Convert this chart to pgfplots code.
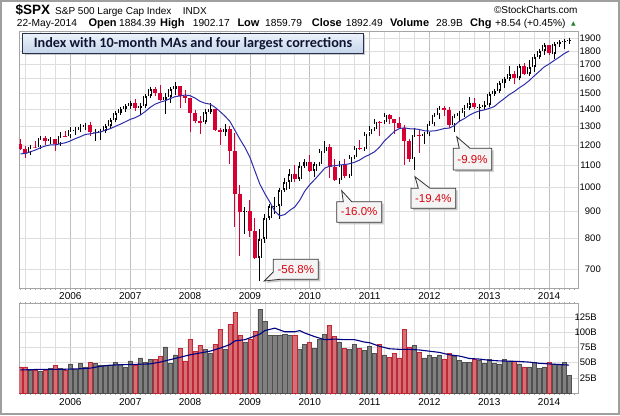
\documentclass[border=0pt]{standalone}
\usepackage{pgfplots}
\pgfplotsset{compat=1.18}
\usepackage{pgfplotstable}
\usepackage{fontspec}
\setmainfont{Liberation Sans}
\newfontfamily\carlito{Carlito}
\newfontfamily\dejavu{DejaVu Sans}
\usetikzlibrary{shadows}

\definecolor{candred}{RGB}{214,0,50}
\definecolor{volred}{RGB}{214,110,118}
\definecolor{volredline}{RGB}{190,40,55}
\definecolor{volgray}{RGB}{128,128,128}
\definecolor{volgrayline}{RGB}{80,80,80}
\definecolor{maline}{RGB}{45,45,170}
\definecolor{vmaline}{RGB}{0,0,130}
\definecolor{lblred}{RGB}{215,5,15}
\definecolor{gridmaj}{RGB}{190,190,190}
\definecolor{gridmin}{RGB}{222,222,222}
\definecolor{framecol}{RGB}{165,165,165}
\definecolor{boxline}{RGB}{40,50,75}

\newcommand{\fs}[1]{\fontsize{#1}{#1}\selectfont}

% monthly S&P 500 candles, i = months from Jan 2006, open = previous close
\pgfplotstableread{
i o h l c
-8 1156.85 1199.56 1146.18 1191.50
-6 1191.33 1245.15 1183.55 1234.18
-4 1220.33 1243.13 1205.35 1228.81
-2 1207.01 1270.64 1201.07 1249.48
0 1248.29 1294.90 1245.74 1280.08
1 1280.08 1297.57 1253.61 1280.66
2 1280.66 1310.88 1268.42 1294.83
3 1294.83 1318.16 1280.74 1310.61
5 1270.09 1284.89 1219.29 1270.20
6 1270.20 1280.42 1224.54 1276.66
7 1276.66 1307.09 1261.30 1303.82
8 1303.82 1340.28 1290.93 1335.85
9 1335.85 1389.45 1327.10 1377.94
10 1377.94 1407.89 1377.76 1400.63
11 1400.63 1431.81 1385.93 1418.30
12 1418.30 1441.61 1403.97 1438.24
14 1406.82 1438.89 1363.98 1420.86
15 1420.86 1498.02 1416.37 1482.37
16 1482.37 1535.56 1476.70 1530.62
19 1455.27 1503.89 1370.60 1473.99
20 1473.99 1538.74 1439.29 1526.75
21 1526.75 1576.09 1489.56 1549.38
27 1322.70 1404.57 1322.70 1385.59
28 1385.59 1440.24 1373.07 1400.38
31 1267.38 1313.15 1248.64 1282.83
35 896.24 918.85 815.69 903.25
38 735.09 832.98 666.79 797.87
39 797.87 888.70 783.32 872.81
40 872.81 930.17 866.10 919.14
41 919.14 956.23 888.86 919.32
42 919.32 996.68 869.32 987.48
43 987.48 1039.47 978.51 1020.62
44 1020.62 1080.15 992.25 1057.08
46 1036.19 1113.69 1029.38 1095.63
47 1095.63 1130.38 1085.89 1115.10
49 1073.87 1112.42 1044.50 1104.49
50 1104.49 1180.16 1104.49 1169.43
51 1169.43 1219.80 1169.43 1186.69
54 1030.71 1120.95 1010.91 1101.60
56 1049.33 1148.67 1041.29 1141.20
57 1141.20 1196.14 1131.87 1183.26
59 1180.55 1262.60 1180.55 1257.64
60 1257.64 1302.67 1257.62 1286.12
61 1286.12 1344.07 1286.12 1327.22
63 1325.83 1366.00 1312.83 1363.61
69 1131.42 1292.66 1074.77 1253.30
71 1246.96 1269.37 1202.37 1257.60
72 1257.60 1333.47 1257.60 1312.41
73 1312.41 1378.04 1312.41 1365.68
74 1365.68 1419.15 1340.03 1408.47
77 1310.33 1363.46 1266.74 1362.16
78 1362.16 1391.74 1325.41 1379.32
79 1379.32 1426.68 1354.65 1406.58
80 1406.58 1474.51 1396.56 1440.67
82 1412.16 1434.27 1343.35 1416.18
83 1416.18 1448.00 1398.11 1426.19
84 1426.19 1509.94 1426.19 1498.11
85 1498.11 1530.94 1485.01 1514.68
86 1514.68 1570.28 1501.48 1569.19
87 1569.19 1597.57 1536.03 1597.57
88 1597.57 1687.18 1581.28 1630.74
90 1606.28 1698.78 1604.57 1685.73
92 1632.97 1729.86 1632.97 1681.55
93 1681.55 1775.22 1646.47 1756.54
94 1756.54 1813.55 1746.20 1805.81
95 1805.81 1849.44 1767.99 1848.36
97 1782.59 1867.92 1737.92 1859.45
98 1859.45 1883.97 1834.44 1872.34
99 1872.34 1897.28 1814.36 1883.95
100 1883.95 1902.17 1859.79 1892.49
}\candup

\pgfplotstableread{
i o h l c
-10 1203.60 1229.11 1176.92 1180.59
-9 1180.59 1191.88 1136.15 1156.85
-7 1191.50 1219.59 1188.30 1191.33
-5 1234.18 1245.86 1201.07 1220.33
-3 1228.81 1233.34 1168.20 1207.01
-1 1249.48 1275.80 1246.59 1248.29
4 1310.61 1326.70 1245.34 1270.09
13 1438.24 1461.57 1389.42 1406.82
17 1530.62 1540.56 1484.18 1503.35
18 1503.35 1555.90 1454.25 1455.27
22 1549.38 1549.38 1406.10 1481.14
23 1481.14 1523.57 1435.65 1468.36
24 1468.36 1471.77 1270.05 1378.55
25 1378.55 1396.02 1316.75 1330.63
26 1330.63 1359.68 1256.98 1322.70
29 1400.38 1404.05 1272.00 1280.00
30 1280.00 1292.17 1200.44 1267.38
32 1282.83 1303.04 1106.42 1166.36
33 1166.36 1264.85 839.80 968.75
34 968.75 1007.51 741.02 896.24
36 903.25 943.85 804.47 825.88
37 825.88 875.01 734.52 735.09
45 1057.08 1101.36 1020.18 1036.19
48 1115.10 1150.45 1071.59 1073.87
52 1186.69 1205.10 1040.78 1089.41
53 1089.41 1131.23 1028.33 1030.71
55 1101.60 1129.24 1039.70 1049.33
58 1183.26 1227.08 1173.00 1180.55
62 1327.22 1332.28 1249.05 1325.83
64 1363.61 1370.58 1311.80 1345.20
65 1345.20 1345.20 1258.07 1320.64
66 1320.64 1356.48 1282.86 1292.28
67 1292.28 1307.38 1101.54 1218.89
68 1218.89 1229.29 1114.22 1131.42
70 1253.30 1277.55 1158.66 1246.96
75 1408.47 1422.38 1357.38 1397.91
76 1397.91 1415.32 1291.98 1310.33
81 1440.67 1470.96 1403.28 1412.16
89 1630.74 1654.19 1560.33 1606.28
91 1685.73 1709.67 1627.47 1632.97
96 1848.36 1850.84 1770.45 1782.59
}\canddown

% 10-month simple moving average of closes
\pgfplotstableread{
i ma
-10 1154.28
-9 1155.88
-8 1164.86
-7 1173.57
-6 1185.53
-5 1194.54
-4 1200.04
-3 1199.55
-2 1206.37
-1 1210.84
0 1220.79
1 1233.17
2 1243.50
3 1255.43
4 1259.02
5 1264.01
6 1268.80
7 1278.48
8 1287.12
9 1300.09
10 1312.15
11 1325.91
12 1340.25
13 1349.87
14 1364.95
15 1386.17
16 1411.57
17 1431.52
18 1443.46
19 1453.07
20 1465.68
21 1478.79
22 1483.08
23 1489.23
24 1485.00
25 1469.83
26 1449.04
27 1437.26
28 1431.77
29 1412.37
30 1386.43
31 1359.77
32 1328.29
33 1278.33
34 1230.10
35 1187.36
36 1137.68
37 1072.63
38 1012.38
39 971.66
40 936.84
41 900.49
42 882.60
43 887.79
44 903.87
45 917.16
46 944.14
47 982.14
48 1009.74
49 1032.91
50 1057.94
51 1084.68
52 1094.87
53 1095.88
54 1100.33
55 1101.64
56 1106.20
57 1113.02
58 1123.69
59 1139.01
60 1150.68
61 1164.73
62 1188.37
63 1221.66
64 1246.02
65 1273.15
66 1288.26
67 1291.82
68 1286.91
69 1286.48
70 1282.56
71 1275.60
72 1274.26
73 1274.47
74 1280.80
75 1288.53
76 1290.34
77 1304.67
78 1329.46
79 1344.79
80 1364.16
81 1379.62
82 1390.00
83 1396.05
84 1405.01
85 1416.69
86 1442.58
87 1466.12
88 1491.26
89 1511.23
90 1535.74
91 1557.82
92 1584.36
93 1617.40
94 1648.17
95 1681.54
96 1702.88
97 1729.07
98 1753.23
99 1781.00
100 1801.68
}\ma

% monthly volume (billions), up months / down months
\pgfplotstableread{
i v
-8 38
-6 36
-4 41
-2 41
0 48
1 39
2 49
3 42
5 49
6 45
7 46
8 46
9 51
10 47
11 43
12 53
14 58
15 51
16 56
19 76
20 49
21 63
27 72
28 66
31 72
35 84
38 138
39 118
40 95
41 95
42 95
43 97
44 95
46 72
47 80
49 74
50 89
51 97
54 83
56 72
57 80
59 70
60 77
61 66
63 63
69 78
71 58
72 63
73 59
74 63
77 61
78 54
79 51
80 51
82 54
83 49
84 55
85 49
86 48
87 56
88 53
90 48
92 43
93 51
94 41
95 43
97 48
98 48
99 50
100 29
}\volup

\pgfplotstableread{
i v
-10 43
-9 43
-7 38
-5 38
-3 46
-1 38
4 51
13 46
17 56
18 61
22 73
23 53
24 89
25 68
26 78
29 80
30 105
32 113
33 133
34 95
36 88
37 101
45 95
48 83
52 112
53 93
55 74
58 73
62 80
64 59
65 65
66 58
67 105
68 76
70 67
75 56
76 65
81 56
89 53
91 43
96 51
}\voldown

\pgfplotsset{
  stock/.style={
    scale only axis, width=559pt,
    xmin=-10.3, xmax=101.8,
    axis line style={framecol, line width=0.8pt},
    xtick={0,12,24,36,48,60,72,84,96},
    xticklabels={2006,2007,2008,2009,2010,2011,2012,2013,2014},
    minor xtick={-9,-6,-3,3,6,9,15,18,21,27,30,33,39,42,45,51,54,57,63,66,69,75,78,81,87,90,93,99},
    xmajorgrids, xminorgrids, yminorgrids,
    major grid style={gridmaj, line width=0.6pt},
    minor grid style={gridmin, line width=0.6pt},
    major tick length=0pt, minor tick length=0pt,
    tick align=outside,
    extra x ticks={-10,-9,...,101},
    extra x tick style={grid=none, major tick length=1.5pt, xticklabel={}, tick style={gray!70}},
    ytick pos=right, yticklabel pos=right,
    tick label style={font=\fs{10}, text=black},
  },
}

\begin{document}
\begin{tikzpicture}[x=1pt, y=1pt]
\useasboundingbox (0,0) rectangle (620,415);

% price panel
\begin{axis}[stock,
  at={(19pt,127pt)}, anchor=south west, height=257pt,
  ymin=6.47053, ymax=7.58308,
  ytick={6.55108,6.68461,6.80239,6.90776,7.00307,7.09008,7.17012,7.24423,7.31322,7.37776,7.43838,7.49554,7.54961},
  minor ytick={6.55108,6.68461,6.80239,6.90776,7.00307,7.09008,7.17012,7.24423,7.31322,7.37776,7.43838,7.49554,7.54961},
  yticklabels={700,800,900,1000,1100,1200,1300,1400,1500,1600,1700,1800,1900},
  yticklabel style={anchor=east, xshift=23pt, inner sep=0pt, font=\fs{9.5}},
  xtick pos=left,
  xticklabel style={anchor=center, yshift=-8pt},
]
% wicks
\addplot[draw=none, mark=none, forget plot, error bars/.cd, y dir=both, y explicit, error mark=none,
  error bar style={draw=black, line width=0.9pt}]
  table[x=i, y expr={ln(\thisrow{c})}, y error plus expr={ln(\thisrow{h})-ln(\thisrow{c})},
        y error minus expr={ln(\thisrow{c})-ln(\thisrow{l})}] {\candup};
\addplot[draw=none, mark=none, forget plot, error bars/.cd, y dir=both, y explicit, error mark=none,
  error bar style={draw=candred, line width=0.9pt}]
  table[x=i, y expr={ln(\thisrow{c})}, y error plus expr={ln(\thisrow{h})-ln(\thisrow{c})},
        y error minus expr={ln(\thisrow{c})-ln(\thisrow{l})}] {\canddown};
% red bodies
\addplot[draw=none, mark=none, forget plot, error bars/.cd, y dir=both, y explicit, error mark=none,
  error bar style={draw=candred, line width=4pt}]
  table[x=i, y expr={(ln(\thisrow{o})+ln(\thisrow{c}))/2}, y error expr={(ln(\thisrow{o})-ln(\thisrow{c}))/2}] {\canddown};
% hollow bodies
\addplot[draw=none, mark=none, forget plot, error bars/.cd, y dir=both, y explicit, error mark=none,
  error bar style={draw=black, line width=4pt}]
  table[x=i, y expr={(ln(\thisrow{o})+ln(\thisrow{c}))/2}, y error expr={(ln(\thisrow{c})-ln(\thisrow{o}))/2}] {\candup};
\addplot[draw=none, mark=none, forget plot, error bars/.cd, y dir=both, y explicit, error mark=-,
  error mark options={draw=black, line width=0.8pt, mark size=2pt},
  error bar style={draw=white, line width=2.4pt}]
  table[x=i, y expr={(ln(\thisrow{o})+ln(\thisrow{c}))/2}, y error expr={(ln(\thisrow{c})-ln(\thisrow{o}))/2}] {\candup};
% 10-month MA
\addplot[maline, line width=1pt, mark=none] table[x=i, y expr={ln(\thisrow{ma})}] {\ma};
\end{axis}

% volume panel
\begin{axis}[stock,
  at={(19pt,22pt)}, anchor=south west, height=89.7pt,
  ymin=0, ymax=148,
  ytick={25,50,75,100,125}, minor ytick={25,50,75,100,125},
  yticklabels={25B,50B,75B,100B,125B},
  yticklabel style={anchor=east, xshift=19pt, inner sep=0pt, font=\fs{9.5}},
  xtick pos=both, xticklabel pos=left,
  xticklabel style={anchor=center, yshift=-9pt},
]
\addplot[ybar, bar width=0.82, bar shift=0pt, fill=volgray, draw=volgrayline, line width=0.6pt, forget plot]
  table[x=i, y=v] {\volup};
\addplot[ybar, bar width=0.82, bar shift=0pt, fill=volred, draw=volredline, line width=0.6pt, forget plot]
  table[x=i, y=v] {\voldown};
\addplot[vmaline, line width=1.1pt, mark=none] coordinates {
  (-10,38) (-8,38.5) (-6,39) (-4,39) (-2,39) (0,39.5) (2,40) (4,41) (6,44) (8,46) (10,46.5)
  (12,47) (14,47.5) (16,48) (18,51) (20,55) (22,59) (24,63) (26,66) (28,69) (30,74) (32,80)
  (33,86) (35,88) (36,91) (38,97) (39,103) (41,107) (42,104) (43,101) (45,101) (46,103)
  (47,99) (49,93) (51,88) (53,89) (55,88) (57,88) (59,84) (60,83) (62,77) (64,73) (66,72)
  (68,72) (70,71) (72,69) (74,67) (76,63) (78,61) (80,57) (82,56) (84,54) (86,53) (88,52.5)
  (90,52) (92,51) (94,49) (96,48) (98,47) (100,46)
};
\end{axis}

% header
\node[anchor=base west, inner sep=0pt, font=\bfseries\fs{13.5}] at (15.5,400) {\$SPX};
\node[anchor=base west, inner sep=0pt, font=\fs{10}] at (55,400.5) {S\&P 500 Large Cap Index};
\node[anchor=base west, inner sep=0pt, font=\fs{10}] at (182.7,400.5) {INDX};
\node[anchor=base east, inner sep=0pt, font=\fs{10}] at (577.7,401) {\textcopyright StockCharts.com};
\begin{scope}[every node/.style={anchor=base west, inner sep=0pt, font=\fs{10.2}}]
\node at (16.7,388.3) {22-May-2014};
\node[font=\bfseries\fs{11}] at (88.3,388.3) {Open};
\node at (119,388.3) {1884.39};
\node[font=\bfseries\fs{11}] at (160,388.3) {High};
\node at (192.7,388.3) {1902.17};
\node[font=\bfseries\fs{11}] at (237.3,388.3) {Low};
\node at (265,388.3) {1859.79};
\node[font=\bfseries\fs{11}] at (311.7,388.3) {Close};
\node at (345.7,388.3) {1892.49};
\node[font=\bfseries\fs{11}] at (390,388.3) {Volume};
\node at (436,388.3) {28.9B};
\node[font=\bfseries\fs{11}] at (470,388.3) {Chg};
\node at (495,388.3) {+8.54 (+0.45\%)};
\node[font=\dejavu\fs{6}, text={rgb,255:red,40;green,130;blue,40}] at (571,389.3) {▲};
\end{scope}

% title box
\draw[draw=boxline, line width=0.8pt, top color={rgb,255:red,236;green,242;blue,250},
  bottom color={rgb,255:red,196;green,213;blue,235},
  drop shadow={shadow xshift=2pt, shadow yshift=-2pt, fill=gray!70, opacity=0.6}]
  (22.7,381.7) rectangle (363.3,361.7);
\node[font=\carlito\bfseries\fs{14.2}, text={rgb,255:red,15;green,20;blue,50}, inner sep=0pt]
  at (193,371.2) {Index with 10-month MAs and four largest corrections};

% callouts
\tikzset{callout/.style={draw={rgb,255:red,50;green,50;blue,50}, line width=0.8pt,
  fill={rgb,255:red,244;green,244;blue,244},
  drop shadow={shadow xshift=2pt, shadow yshift=-2pt, fill=gray!70, opacity=0.6}},
  calltext/.style={font=\fs{11.5}, text=lblred, inner sep=0pt}}
\draw[callout] (273.3,155.7) -- (318.3,155.7) -- (318.3,135.7) -- (280,135.7) -- (264.3,134) -- (273.3,143) -- cycle;
\node[calltext] at (295.8,145.7) {-56.8\%};
\draw[callout] (336.7,213.3) -- (343.3,213.3) -- (341.7,224.3) -- (351.7,213.3) -- (381.7,213.3) -- (381.7,192.7) -- (336.7,192.7) -- cycle;
\node[calltext] at (359.2,203) {-16.0\%};
\draw[callout] (411,226.7) -- (418.3,226.7) -- (415,238.3) -- (430,226.7) -- (455.7,226.7) -- (455.7,206.7) -- (411,206.7) -- cycle;
\node[calltext] at (433.3,216.7) {-19.4\%};
\draw[callout] (453.3,266.7) -- (459.3,266.7) -- (456.7,278.3) -- (470,266.7) -- (491.7,266.7) -- (491.7,245) -- (453.3,245) -- cycle;
\node[calltext] at (472.5,255.8) {-9.9\%};

% outer frame
\draw[gray!75, line width=2pt] (1,1) rectangle (619,414);
\end{tikzpicture}
\end{document}
